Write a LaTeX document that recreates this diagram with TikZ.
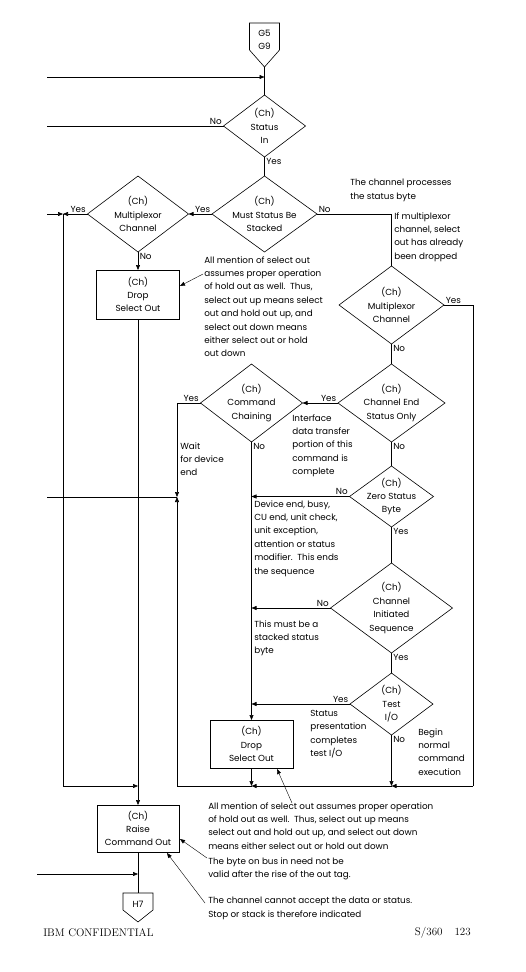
\documentclass[tikz,border=0pt]{standalone}
\usepackage{fontspec}
\setsansfont{Poppins}
\usetikzlibrary{shapes.geometric,arrows.meta}
\begin{document}
\begin{tikzpicture}[x=1pt,y=-1pt,line width=0.6pt]
        \tikzset{
    chart/.style={font=\sffamily\fontsize{8.8}{13.4}\selectfont},
    decision/.style={chart, diamond, draw, inner sep=-10pt, outer sep=0pt, align=center},
    action/.style={chart, rectangle, draw, inner sep=0pt, outer sep=0pt, align=center},
    note/.style={chart, anchor=north west, align=left, inner sep=0pt},
    yn/.style={chart, inner sep=1.5pt},
    flow/.style={-{Triangle[length=5pt,width=4pt]}},
        }
        \useasboundingbox (0,0) rectangle (526,972);

        % Off-page connectors.
        \node[chart, align=center, inner sep=0pt] (g5) at (264.5,40) {G5\\G9};
        \draw (249.5,23) -- (279.5,23) -- (279.5,50) -- (264.5,67) -- (249.5,50) -- cycle;
        \coordinate (g5 tip) at (264.5,67);
        \node[chart, inner sep=0pt] (h7) at (138,904) {H7};
        \draw (123,893) -- (153,893) -- (153,910) -- (138,922) -- (123,910) -- cycle;
        \coordinate (h7 top) at (138,893);

        % Decisions.
        \node[decision, minimum width=82pt, minimum height=62pt]  (status)    at (264.5,126) {(Ch)\\Status\\In};
        \node[decision, minimum width=105pt, minimum height=76pt] (stacked)   at (264.5,214) {(Ch)\\Must Status Be\\Stacked};
        \node[decision, minimum width=101pt, minimum height=76pt] (mux1)      at (138,214)   {(Ch)\\Multiplexor\\Channel};
        \node[decision, minimum width=105pt, minimum height=78pt] (mux2)      at (391.5,305) {(Ch)\\Multiplexor\\Channel};
        \node[decision, minimum width=102pt, minimum height=78pt] (chaining)  at (251.5,403) {(Ch)\\Command\\Chaining};
        \node[decision, minimum width=107pt, minimum height=78pt] (endonly)   at (391.5,403) {(Ch)\\Channel End\\Status Only};
        \node[decision, minimum width=84pt, minimum height=61pt]  (zero)      at (391.5,496.5) {(Ch)\\Zero Status\\Byte};
        \node[decision, minimum width=122pt, minimum height=90pt] (initiated) at (391.5,608) {(Ch)\\Channel\\Initiated\\Sequence};
        \node[decision, minimum width=83pt, minimum height=62pt]  (testio)    at (391.5,704) {(Ch)\\Test\\I/O};

        % Actions.
        \node[action, minimum width=83pt, minimum height=49pt] (drop1) at (138,294.5) {(Ch)\\Drop\\Select Out};
        \node[action, minimum width=83pt, minimum height=48pt] (drop2) at (251.5,744)  {(Ch)\\Drop\\Select Out};
        \node[action, minimum width=82pt, minimum height=47pt] (raise) at (138,828.5)  {(Ch)\\Raise\\Command Out};

        % Free ends and junctions.
        \coordinate (in1)   at (47,77);
        \coordinate (out1)  at (47,126);
        \coordinate (in2)   at (47,214);
        \coordinate (j1)    at (63,214);
        \coordinate (j2)    at (177,497);
        \coordinate (out2)  at (47,497);
        \coordinate (loopR) at (473,786);
        \coordinate (loopL) at (177,786);
        \coordinate (in3)   at (37,874);

        % Connectors.
        \draw (g5 tip) -- (status.north);
        \draw[flow] (in1) -- (in1 -| status.north);
        \draw (status.west) -- (out1);
        \draw (status.south) -- (stacked.north);
        \draw[flow] (stacked.west) -- (mux1.east);
        \draw (stacked.east) -| (mux2.north);
        \draw[flow] (mux1.west) -- (j1);
        \draw[flow] (in2) -- (j1);
        \draw[flow] (j1) |- (drop1.south |- loopR);
        \draw[flow] (mux1.south) -- (drop1.north);
        \draw[flow] (drop1.south) -- (raise.north);
        \draw (mux2.east) -| (loopR);
        \draw (mux2.south) -- (endonly.north);
        \draw[flow] (endonly.west) -- (chaining.east);
        \draw[flow] (chaining.west) -| (j2);
        \draw (j2) -- (out2);
        \draw[flow] (chaining.south) -- (drop2.north);
        \draw (endonly.south) -- (zero.north);
        \draw[flow] (zero.west) -- (zero.west -| drop2.north);
        \draw (zero.south) -- (initiated.north);
        \draw[flow] (initiated.west) -- (initiated.west -| drop2.north);
        \draw (initiated.south) -- (testio.north);
        \draw[flow] (testio.west) -- (testio.west -| drop2.north);
        \draw[flow] (testio.south) -- (testio.south |- loopR);
        \draw[flow] (drop2.south) -- (drop2.south |- loopR);
        \draw[flow] (loopR) -- (testio.south |- loopR);
        \draw[flow] (testio.south |- loopR) -- (drop2.south |- loopR);
        \draw[flow] (drop2.south |- loopR) -- (loopL) -- (j2);
        \draw (raise.south) -- (h7 top);
        \draw[flow] (in3) -- (in3 -| raise.south);

        % Yes and No.
        \path (status.west)    node[yn, above left]  (n1)  {No};
        \path (status.south)   node[yn, below right] (y1)  {Yes};
        \path (stacked.west)   node[yn, above left]  (y2)  {Yes};
        \path (stacked.east)   node[yn, above right] (n2)  {No};
        \path (mux1.west)      node[yn, above left]  (y3)  {Yes};
        \path (mux1.south)     node[yn, below right] (n3)  {No};
        \path (mux2.east)      node[yn, above right] (y4)  {Yes};
        \path (mux2.south)     node[yn, below right] (n4)  {No};
        \path (chaining.west)  node[yn, above left]  (y5)  {Yes};
        \path (chaining.south) node[yn, below right] (n5)  {No};
        \path (endonly.west)   node[yn, above left]  (y6)  {Yes};
        \path (endonly.south)  node[yn, below right] (n6)  {No};
        \path (zero.west)      node[yn, above left]  (n7)  {No};
        \path (zero.south)     node[yn, below right] (y7)  {Yes};
        \path (initiated.west) node[yn, above left]  (n8)  {No};
        \path (initiated.south) node[yn, below right] (y8) {Yes};
        \path (testio.west)    node[yn, above left]  (y9)  {Yes};
        \path (testio.south)   node[yn, below right] (n9)  {No};

        % Notes.
        \node[note] (processes) at (350,179) {The channel processes\\the status byte};
        \node[note] (dropped)   at (394,212) {If multiplexor\\channel, select\\out has already\\been dropped};
        \node[note] (holdA)     at (204,256) {All mention of select out\\assumes proper operation\\of hold out as well.\ \ Thus,\\select out up means select\\out and hold out up, and\\select out down means\\either select out or hold\\out down};
        \node[note] (interface) at (292,414) {Interface\\data transfer\\portion of this\\command is\\complete};
        \node[note] (wait)      at (180,442) {Wait\\for device\\end};
        \node[note] (ends)      at (254,500) {Device end, busy,\\CU end, unit check,\\unit exception,\\attention or status\\modifier.\ \ This ends\\the sequence};
        \node[note] (mustbe)    at (254,620) {This must be a\\stacked status\\byte};
        \node[note] (presents)  at (310,710) {Status\\presentation\\completes\\test I/O};
        \node[note] (begin)     at (418,728) {Begin\\normal\\command\\execution};
        \node[note] (holdB)     at (208,802) {All mention of select out assumes proper operation\\of hold out as well.\ \ Thus, select out up means\\select out and hold out up, and select out down\\means either select out or hold out down};
        \node[note] (bus)       at (208,857) {The byte on bus in need not be\\valid after the rise of the out tag.};
        \node[note] (accept)    at (208,897) {The channel cannot accept the data or status.\\Stop or stack is therefore indicated};

        % Callouts.
        \coordinate (holdA tail)  at (203,274);
        \coordinate (holdA head)  at (180,286);
        \coordinate (holdB tail)  at (292,803);
        \coordinate (holdB head)  at (277,769);
        \coordinate (bus tail)    at (207,858);
        \coordinate (bus head)    at (180,839);
        \coordinate (accept tail) at (205,903);
        \coordinate (accept head) at (167,853);
        \draw[flow, line width=0.4pt] (holdA tail) -- (holdA head);
        \draw[flow, line width=0.4pt] (holdB tail) -- (holdB head);
        \draw[flow, line width=0.4pt] (bus tail) -- (bus head);
        \draw[flow, line width=0.4pt] (accept tail) -- (accept head);

        % Foot of the page.
        \node[font=\rmfamily\fontsize{11}{13}\selectfont, anchor=west, inner sep=0pt] (conf) at (43,933) {IBM CONFIDENTIAL};
        \node[font=\rmfamily\fontsize{11}{13}\selectfont, anchor=east, inner sep=0pt] (folio) at (471,933) {S/360\hspace{12pt}123};
      \end{tikzpicture}
\end{document}
